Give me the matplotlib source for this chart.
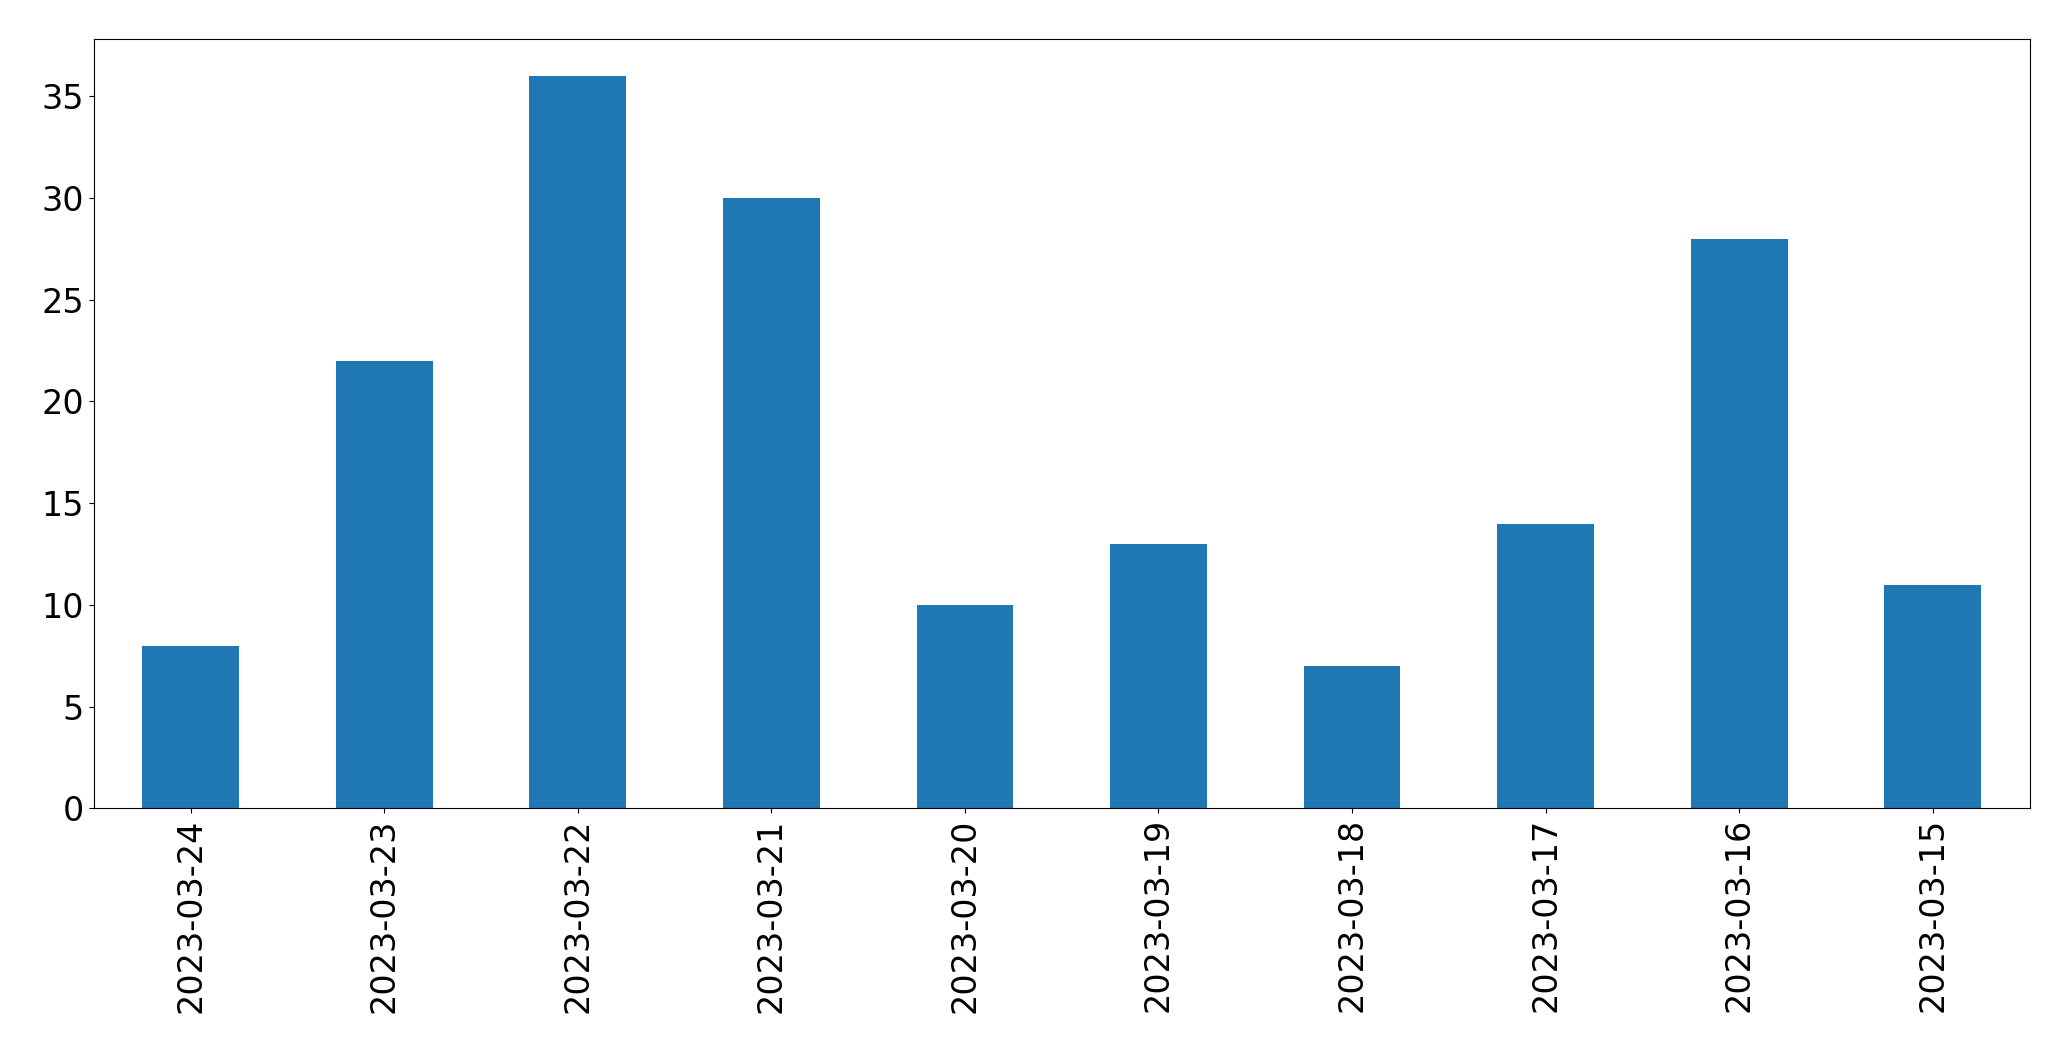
import matplotlib
matplotlib.use("Agg")
import matplotlib.pyplot as plt

dates = ["2023-03-24", "2023-03-23", "2023-03-22", "2023-03-21", "2023-03-20",
         "2023-03-19", "2023-03-18", "2023-03-17", "2023-03-16", "2023-03-15"]
counts = [8, 22, 36, 30, 10, 13, 7, 14, 28, 11]

fig = plt.figure(figsize=(20.71, 10.61), dpi=100)
ax = fig.add_axes([0.0453, 0.238, 0.9347, 0.725])
x = range(len(dates))
ax.bar(x, counts, width=0.5, color="#1f77b4")
ax.set_xticks(list(x))
ax.set_xticklabels(dates, rotation=90)
ax.set_xlim(-0.5, len(dates) - 0.5)
ax.set_ylim(0, 37.8)
ax.tick_params(labelsize=24)
fig.savefig("out.png", dpi=100)
